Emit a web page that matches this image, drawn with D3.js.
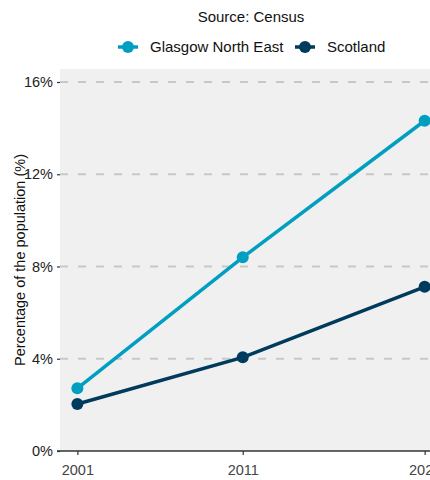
<!DOCTYPE html>
<html>
<head>
<meta charset="utf-8">
<script src="https://cdn.jsdelivr.net/npm/d3@7"></script>
<style>
  html, body { margin: 0; padding: 0; background: #fff; }
  svg { display: block; font-family: "Liberation Sans", Arial, sans-serif; }
</style>
</head>
<body>
<div id="chart"></div>
<script>
// Census share line chart: two series across three census years.
const years = [2001, 2011, 2022];
const yearLabels = ["2001", "2011", "2022"];
const seriesNames = ["Glasgow North East", "Scotland"];
const glasgowValues = [2.72, 8.40, 14.32];
const scotlandValues = [2.04, 4.06, 7.12];
const yTicks = [0, 4, 8, 12, 16];
const colors = ["#009fc2", "#003a5d"];

const width = 430;
const height = 480;
const panel = { left: 60, right: 442, top: 69, bottom: 451 };

const svg = d3.select("#chart").append("svg")
  .attr("width", width)
  .attr("height", height);

const x = d3.scaleLinear()
  .domain([2001 - 1.05, 2022 + 1.05])
  .range([panel.left, panel.right]);

const y = d3.scaleLinear()
  .domain([0, 16])
  .range([panel.bottom, 82]);

// panel background
svg.append("rect")
  .attr("x", panel.left)
  .attr("y", panel.top)
  .attr("width", panel.right - panel.left)
  .attr("height", panel.bottom - panel.top)
  .attr("fill", "#f0f0f0");

// dashed gridlines
svg.append("g")
  .selectAll("line")
  .data(yTicks.filter((d) => d > 0))
  .join("line")
  .attr("x1", panel.left)
  .attr("x2", panel.right)
  .attr("y1", (d) => y(d))
  .attr("y2", (d) => y(d))
  .attr("stroke", "#c8c8c8")
  .attr("stroke-width", 2)
  .attr("stroke-dasharray", "8,10");

// y axis
const yAxis = svg.append("g")
  .attr("transform", `translate(${panel.left},0)`)
  .call(d3.axisLeft(y).tickValues(yTicks).tickFormat((d) => d + "%").tickSize(3).tickPadding(4));
yAxis.select(".domain").remove();
yAxis.selectAll(".tick line").attr("stroke", "#333").attr("stroke-width", 1.2);
yAxis.selectAll(".tick text").attr("fill", "#222").style("font-size", "14.5px");

// x axis
const xAxis = svg.append("g")
  .attr("transform", `translate(0,${panel.bottom})`)
  .call(d3.axisBottom(x).tickValues(years).tickFormat((d, i) => yearLabels[i]).tickSize(4).tickPadding(10));
xAxis.select(".domain").remove();
xAxis.selectAll(".tick line").attr("stroke", "#333").attr("stroke-width", 1.2);
xAxis.selectAll(".tick text").attr("fill", "#444").style("font-size", "14.5px");

// baseline
svg.append("line")
  .attr("x1", 57)
  .attr("x2", panel.right)
  .attr("y1", y(0))
  .attr("y2", y(0))
  .attr("stroke", "#333")
  .attr("stroke-width", 1.6);

// series
const series = [
  { name: seriesNames[0], values: glasgowValues, color: colors[0] },
  { name: seriesNames[1], values: scotlandValues, color: colors[1] },
];

const line = d3.line()
  .x((d, i) => x(years[i]))
  .y((d) => y(d));

const groups = svg.append("g")
  .selectAll("g")
  .data(series)
  .join("g");

groups.append("path")
  .attr("d", (d) => line(d.values))
  .attr("fill", "none")
  .attr("stroke", (d) => d.color)
  .attr("stroke-width", 3.5);

groups.selectAll("circle")
  .data((d) => d.values.map((v, i) => ({ v, i, color: d.color })))
  .join("circle")
  .attr("cx", (d) => x(years[d.i]))
  .attr("cy", (d) => y(d.v))
  .attr("r", 6)
  .attr("fill", (d) => d.color);

// y axis title
svg.append("text")
  .attr("transform", `translate(25,${(panel.top + panel.bottom) / 2}) rotate(-90)`)
  .attr("text-anchor", "middle")
  .attr("fill", "#111")
  .style("font-size", "14.5px")
  .text("Percentage of the population (%)");

// title
svg.append("text")
  .attr("x", 251)
  .attr("y", 22)
  .attr("text-anchor", "middle")
  .attr("fill", "#111")
  .style("font-size", "15px")
  .text("Source: Census");

// legend
const legendItems = [
  { name: seriesNames[0], color: colors[0], x: 118 },
  { name: seriesNames[1], color: colors[1], x: 295 },
];
const legend = svg.append("g")
  .selectAll("g")
  .data(legendItems)
  .join("g")
  .attr("transform", (d) => `translate(${d.x},47)`);
legend.append("line")
  .attr("x1", 0).attr("x2", 20)
  .attr("stroke", (d) => d.color)
  .attr("stroke-width", 3.5);
legend.append("circle")
  .attr("cx", 10)
  .attr("r", 6)
  .attr("fill", (d) => d.color);
legend.append("text")
  .attr("x", 32)
  .attr("dy", "0.35em")
  .attr("fill", "#111")
  .style("font-size", "15px")
  .text((d) => d.name);
</script>
</body>
</html>
